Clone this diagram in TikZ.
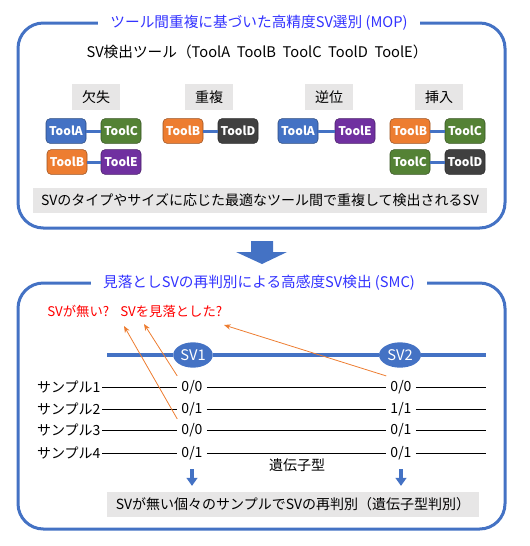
\documentclass[tikz,border=0pt]{standalone}
\usepackage{fontspec}
\setmainfont{Noto Sans CJK JP}
\usetikzlibrary{arrows.meta,positioning,calc,shapes.geometric}
\definecolor{figblue}{RGB}{68,114,196}
\definecolor{figtitle}{RGB}{51,51,255}
\definecolor{figgray}{RGB}{231,230,230}
\definecolor{figorange}{RGB}{237,125,49}
\definecolor{figgreen}{RGB}{84,130,53}
\definecolor{figpurple}{RGB}{112,48,160}
\definecolor{figdark}{RGB}{64,64,64}
\definecolor{figred}{RGB}{255,0,0}
\tikzset{
  frame/.style ={draw=figblue, line width=2.25pt, rounded corners=19pt},
  ttl/.style   ={fill=white, text=figtitle, font=\fontsize{11}{13}\selectfont, inner xsep=9pt, inner ysep=1pt},
  txt/.style   ={font=\fontsize{10.5}{12}\selectfont, inner sep=1pt},
  cat/.style   ={fill=figgray, minimum width=36pt, minimum height=20pt, inner sep=1pt, font=\fontsize{10.5}{12}\selectfont},
  tool/.style  ={draw=#1!65!black, fill=#1, text=white, rounded corners=3pt, minimum width=30pt, minimum height=18.5pt, inner sep=1pt, font=\fontsize{9}{10}\selectfont\bfseries},
  link/.style  ={draw=figblue, line width=2.25pt},
  bar/.style   ={fill=figgray, minimum height=18.75pt, inner sep=1pt, font=\fontsize{10.5}{12}\selectfont},
  svn/.style   ={ellipse, fill=figblue, text=white, minimum height=19pt, inner sep=1pt, font=\fontsize{11}{12}\selectfont},
  smp/.style   ={anchor=east, inner sep=1pt, font=\fontsize{10.5}{12}\selectfont},
  gt/.style    ={inner sep=3pt, font=\fontsize{10.5}{12}\selectfont},
  row/.style   ={draw=black, line width=0.75pt},
  ptr/.style   ={draw=figorange, line width=0.6pt, -{Stealth[length=5pt,width=4pt]}},
  dn/.style    ={draw=figblue, line width=2.6pt, -{Triangle[length=6pt,width=8pt]}},
  qst/.style   ={anchor=west, text=figred, inner sep=0pt, font=\fontsize{10}{12}\selectfont},
}

\begin{document}
\begin{tikzpicture}[x=0.75pt,y=-0.75pt]
  \useasboundingbox (0,0) rectangle (530,546);
  % upper panel (MOP)
  \draw[frame] (18,23) rectangle (505,228);
  \node[ttl] (mop) at (259,23) {ツール間重複に基づいた高精度SV選別 (MOP)};
  \node[txt, font=\fontsize{11}{13}\selectfont] (tools) at (257,52) {SV検出ツール（ToolA\ \ ToolB\ \ ToolC\ \ ToolD\ \ ToolE）};
  \node[cat] (del) at (96,97) {欠失};
  \node[cat] (dup) at (209,97) {重複};
  \node[cat] (inv) at (329,97) {逆位};
  \node[cat] (ins) at (439,97) {挿入};
  % deletion
  \node[tool=figblue]   (delA) at (66,131) {ToolA};
  \node[tool=figgreen]  (delC) at (121,131) {ToolC};
  \node[tool=figorange] (delB) at (67,162) {ToolB};
  \node[tool=figpurple] (delE) at (121,162) {ToolE};
  \draw[link] (delA) -- (delC);
  \draw[link] (delB) -- (delE);
  % duplication
  \node[tool=figorange] (dupB) at (183,131) {ToolB};
  \node[tool=figdark]   (dupD) at (238,131) {ToolD};
  \draw[link] (dupB) -- (dupD);
  % inversion
  \node[tool=figblue]   (invA) at (298,131) {ToolA};
  \node[tool=figpurple] (invE) at (355,131) {ToolE};
  \draw[link] (invA) -- (invE);
  % insertion
  \node[tool=figorange] (insB) at (410,131) {ToolB};
  \node[tool=figgreen]  (insC) at (465,131) {ToolC};
  \node[tool=figgreen]  (insC2) at (410,162) {ToolC};
  \node[tool=figdark]   (insD) at (465,162) {ToolD};
  \draw[link] (insB) -- (insC);
  \draw[link] (insC2) -- (insD);
  \node[bar, minimum width=340.5pt] (best) at (260,200) {SVのタイプやサイズに応じた最適なツール間で重複して検出されるSV};
  % big arrow
  \fill[figblue] (251,241) -- (273,241) -- (273,252) -- (287,252) -- (262,264)
    -- (236,252) -- (251,252) -- cycle;
  % lower panel (SMC)
  \draw[frame] (18,283) rectangle (505,529);
  \node[ttl] (smc) at (259,283) {見落としSVの再判別による高感度SV検出 (SMC)};
  \node[qst] (noSV) at (47,311) {SVが無い?};
  \node[qst] (miss) at (120,311) {SVを見落とした?};
  \coordinate (svl) at (107,355);
  \coordinate (svr) at (486,355);
  \node[svn, minimum width=28pt] (sv1) at (193,355) {SV1};
  \node[svn, minimum width=31.5pt] (sv2) at (400,355) {SV2};
  \draw[link, line width=3pt] (svl) -- (sv1) -- (sv2) -- (svr);
  % samples
  \node[smp] (smp1) at (102,387) {サンプル1};
  \node[smp] (smp2) at (102,409) {サンプル2};
  \node[smp] (smp3) at (102,430) {サンプル3};
  \node[smp] (smp4) at (102,453) {サンプル4};
  \node[gt] (g11) at (192,387) {0/0};
  \node[gt] (g21) at (192,409) {0/1};
  \node[gt] (g31) at (192,430) {0/0};
  \node[gt] (g41) at (192,453) {0/1};
  \node[gt] (g12) at (401,387) {0/0};
  \node[gt] (g22) at (401,409) {1/1};
  \node[gt] (g32) at (401,430) {0/1};
  \node[gt] (g42) at (401,453) {0/1};
  \coordinate (e1) at (486,387);
  \coordinate (e2) at (486,409);
  \coordinate (e3) at (486,430);
  \coordinate (e4) at (486,453);
  \draw[row] (smp1) -- (g11) -- (g12) -- (e1);
  \draw[row] (smp2) -- (g21) -- (g22) -- (e2);
  \draw[row] (smp3) -- (g31) -- (g32) -- (e3);
  \draw[row] (smp4) -- (g41) -- (g42) -- (e4);
  \node[txt] (geno) at (297,465) {遺伝子型};
  % missed calls
  \coordinate (q1) at (124,326);
  \coordinate (q2) at (144,324);
  \coordinate (q3) at (224,325);
  \draw[ptr] (g31.north west) -- (q1);
  \draw[ptr] (g11.north west) -- (q2);
  \draw[ptr] (g12.north west) -- (q3);
  \node[bar, minimum width=279pt] (regt) at (293,504) {SVが無い個々のサンプルでSVの再判別（遺伝子型判別）};
  \draw[dn, shorten <=4pt, shorten >=4pt] (g41.south) -- (g41.south |- regt.north);
  \draw[dn, shorten <=4pt, shorten >=4pt] (g42.south) -- (g42.south |- regt.north);
\end{tikzpicture}
\end{document}
